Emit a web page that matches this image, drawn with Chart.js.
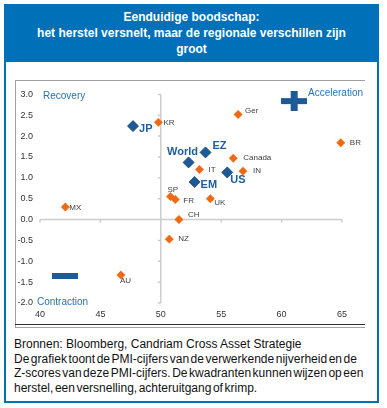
<!DOCTYPE html>
<html>
<head>
<meta charset="utf-8">
<script src="https://cdn.jsdelivr.net/npm/chart.js@4/dist/chart.umd.min.js"></script>
<style>
body { margin:0; background:#fff; font-family: Arial, "Liberation Sans", sans-serif; }
#outer { position:absolute; left:4px; top:4px; width:375px; height:399px; box-sizing:border-box; border:2px solid #0070b8; }
#title { position:absolute; left:4px; top:4px; width:375px; height:58px; background:#0070b8; color:#fff;
  font-weight:bold; font-size:12px; line-height:16px; text-align:center; padding-top:5px; box-sizing:border-box; }
#frameTop { position:absolute; left:15px; top:80px; width:350px; height:1px; background:#a0a0a0; }
#frameLeft { position:absolute; left:15px; top:80px; width:1px; height:247px; background:#a0a0a0; }
#frameBot1 { position:absolute; left:15px; top:324px; width:350px; height:1px; background:#333; }
#frameBot2 { position:absolute; left:15px; top:327px; width:350px; height:1px; background:#a0a0a0; }
#wrap { position:absolute; left:15px; top:82px; width:350px; height:241px; }
#caption { position:absolute; left:14px; top:337px; width:370px; font-size:12px; line-height:14.7px; color:#111; white-space:nowrap; }
#caption .tight { word-spacing:-1.8px; }
</style>
</head>
<body>
<div id="outer"></div>
<div id="title">Eenduidige boodschap:<br>het herstel versnelt, maar de regionale verschillen zijn<br>groot</div>
<div id="frameTop"></div><div id="frameLeft"></div><div id="frameBot1"></div><div id="frameBot2"></div>
<div id="wrap"><canvas id="myChart"></canvas></div>
<div id="caption">Bronnen: Bloomberg, Candriam Cross Asset Strategie<br><span class="tight">De grafiek toont de PMI-cijfers van de verwerkende nijverheid en de<br>Z-scores van deze PMI-cijfers. De kwadranten kunnen wijzen op een<br>herstel, een versnelling, achteruitgang of krimp.</span></div>
<script>
// countries (orange) and regions (blue): PMI on x, Z-score on y
var countryNames = ['KR', 'Ger', 'BR', 'Canada', 'IT', 'IN', 'UK', 'SP', 'FR', 'MX', 'CH', 'NZ', 'AU'];
var countryPmi = [49.8, 56.4, 64.9, 56.0, 53.2, 56.8, 54.1, 50.8, 51.2, 42.1, 51.5, 50.7, 46.7];
var countryZ = [2.33, 2.52, 1.84, 1.47, 1.20, 1.16, 0.50, 0.55, 0.48, 0.30, 0.00, -0.47, -1.33];

var regionNames = ['JP', 'World', 'EZ', 'US', 'EM'];
var regionPmi = [47.7, 52.3, 53.7, 55.5, 52.8];
var regionZ = [2.24, 1.37, 1.61, 1.13, 0.90];

// plus / minus signs
var plusPmi = [61.0];
var plusZ = [2.84];
var minusPmi = [42.1];
var minusZ = [-1.35];

var xTicks = [40, 45, 50, 55, 60, 65];
var yTicks = [3.0, 2.5, 2.0, 1.5, 1.0, 0.5, 0.0, -0.5, -1.0, -1.5, -2.0];
var quadrantNames = ['Recovery', 'Acceleration', 'Contraction'];

var orange = '#ee6a12';
var blue = '#1c5b98';
var labelBlue = '#2a72b5';

function toPoints(xs, ys) {
    var pts = [];
    for (var i = 0; i < xs.length; i++) pts.push({x: xs[i], y: ys[i]});
    return pts;
}

function signImage(w, h, plus) {
    var c = document.createElement('canvas');
    c.width = w; c.height = h;
    var g = c.getContext('2d');
    g.fillStyle = blue;
    if (plus) {
        g.fillRect(0, Math.round(h / 2 - 3), w, 6);
        g.fillRect(Math.round(w / 2 - 3.5), 0, 7, h);
    } else {
        g.fillRect(0, 0, w, h);
    }
    return c;
}

// label placement: [dx, dy, align]
var labelPos = {
    KR: [5, 0, 'left'], Ger: [7, -4, 'left'], BR: [9, 0, 'left'], Canada: [10, 0, 'left'],
    IT: [9, 0, 'left'], IN: [10, 0, 'left'], UK: [4, 4, 'left'], SP: [-3, -7, 'left'],
    FR: [8, 1, 'left'], MX: [4, 1, 'left'], CH: [9, -5, 'left'], NZ: [9, 0, 'left'], AU: [-1, 6, 'left'],
    JP: [6, 3, 'left'], World: [-6, -10, 'center'], EZ: [7, -6, 'left'], US: [3, 8, 'left'], EM: [6, 3, 'left']
};

var crossAxes = {
    id: 'crossAxes',
    beforeDatasetsDraw: function(chart) {
        var ctx = chart.ctx, x = chart.scales.x, y = chart.scales.y;
        var x0 = x.getPixelForValue(50), y0 = y.getPixelForValue(0);
        ctx.save();
        ctx.strokeStyle = '#cdcdcd';
        ctx.lineWidth = 1.5;
        ctx.beginPath();
        ctx.moveTo(x0, y.top); ctx.lineTo(x0, y.bottom);
        y.ticks.forEach(function(t) {
            var p = y.getPixelForValue(t.value);
            ctx.moveTo(x0 - 3, p); ctx.lineTo(x0, p);
        });
        ctx.moveTo(x.left, y0); ctx.lineTo(x.right, y0);
        x.ticks.forEach(function(t) {
            var p = x.getPixelForValue(t.value);
            ctx.moveTo(p, y0); ctx.lineTo(p, y0 + 3);
        });
        ctx.stroke();
        ctx.restore();
    },
    afterDatasetsDraw: function(chart) {
        var ctx = chart.ctx, a = chart.chartArea;
        ctx.save();
        ctx.textBaseline = 'middle';
        // point labels
        [[0, countryNames], [1, regionNames]].forEach(function(d) {
            var meta = chart.getDatasetMeta(d[0]);
            meta.data.forEach(function(el, i) {
                var name = d[1][i];
                var pos = labelPos[name] || [6, 0, 'left'];
                if (d[0] === 0) {
                    ctx.font = '8px Arial, "Liberation Sans", sans-serif';
                    ctx.fillStyle = '#404040';
                } else {
                    ctx.font = 'bold 11px Arial, "Liberation Sans", sans-serif';
                    ctx.fillStyle = '#1f5d9c';
                }
                ctx.textAlign = pos[2];
                ctx.fillText(name, el.x + pos[0], el.y + pos[1]);
            });
        });
        // quadrant names
        ctx.font = '10px Arial, "Liberation Sans", sans-serif';
        ctx.fillStyle = labelBlue;
        ctx.textAlign = 'left';
        ctx.fillText(quadrantNames[0], a.left + 3, a.top + 2);
        ctx.textAlign = 'right';
        ctx.fillText(quadrantNames[1], a.right + 21, a.top - 1);
        ctx.textAlign = 'left';
        ctx.fillText(quadrantNames[2], a.left - 3, a.bottom - 1);
        ctx.restore();
    }
};

var ctx = document.getElementById('myChart').getContext('2d');
var myChart = new Chart(ctx, {
    type: 'scatter',
    data: {
        datasets: [{
            data: toPoints(countryPmi, countryZ),
            pointStyle: 'rectRot',
            pointRadius: 4.2,
            backgroundColor: orange,
            borderColor: orange,
            borderWidth: 0.5,
            clip: false
        }, {
            data: toPoints(regionPmi, regionZ),
            pointStyle: 'rectRot',
            pointRadius: 5.5,
            backgroundColor: blue,
            borderColor: '#163f66',
            borderWidth: 0.8,
            clip: false
        }, {
            data: toPoints(plusPmi, plusZ),
            pointStyle: signImage(26, 20, true),
            clip: false
        }, {
            data: toPoints(minusPmi, minusZ),
            pointStyle: signImage(26, 6, false),
            clip: false
        }]
    },
    options: {
        responsive: true,
        maintainAspectRatio: false,
        animation: false,
        layout: { padding: { top: 10, right: 23, left: 0, bottom: 0 } },
        plugins: {
            legend: { display: false },
            tooltip: { enabled: false }
        },
        scales: {
            x: {
                type: 'linear',
                min: 40, max: 65,
                grid: { display: false, drawTicks: false },
                border: { display: false },
                afterBuildTicks: function(s) { s.ticks = xTicks.map(function(v) { return {value: v}; }); },
                afterFit: function(s) { s.height = 20; },
                ticks: { color: '#333', font: { size: 9, family: 'Arial' }, padding: 6 }
            },
            y: {
                type: 'linear',
                min: -2, max: 3,
                grid: { display: false, drawTicks: false },
                border: { display: false },
                afterBuildTicks: function(s) { s.ticks = yTicks.map(function(v) { return {value: v}; }); },
                afterFit: function(s) { s.width = 25; },
                ticks: {
                    color: '#333', font: { size: 9, family: 'Arial' }, padding: 7,
                    callback: function(v) { return Number(v).toFixed(1); }
                }
            }
        }
    },
    plugins: [crossAxes]
});
</script>
</body>
</html>
